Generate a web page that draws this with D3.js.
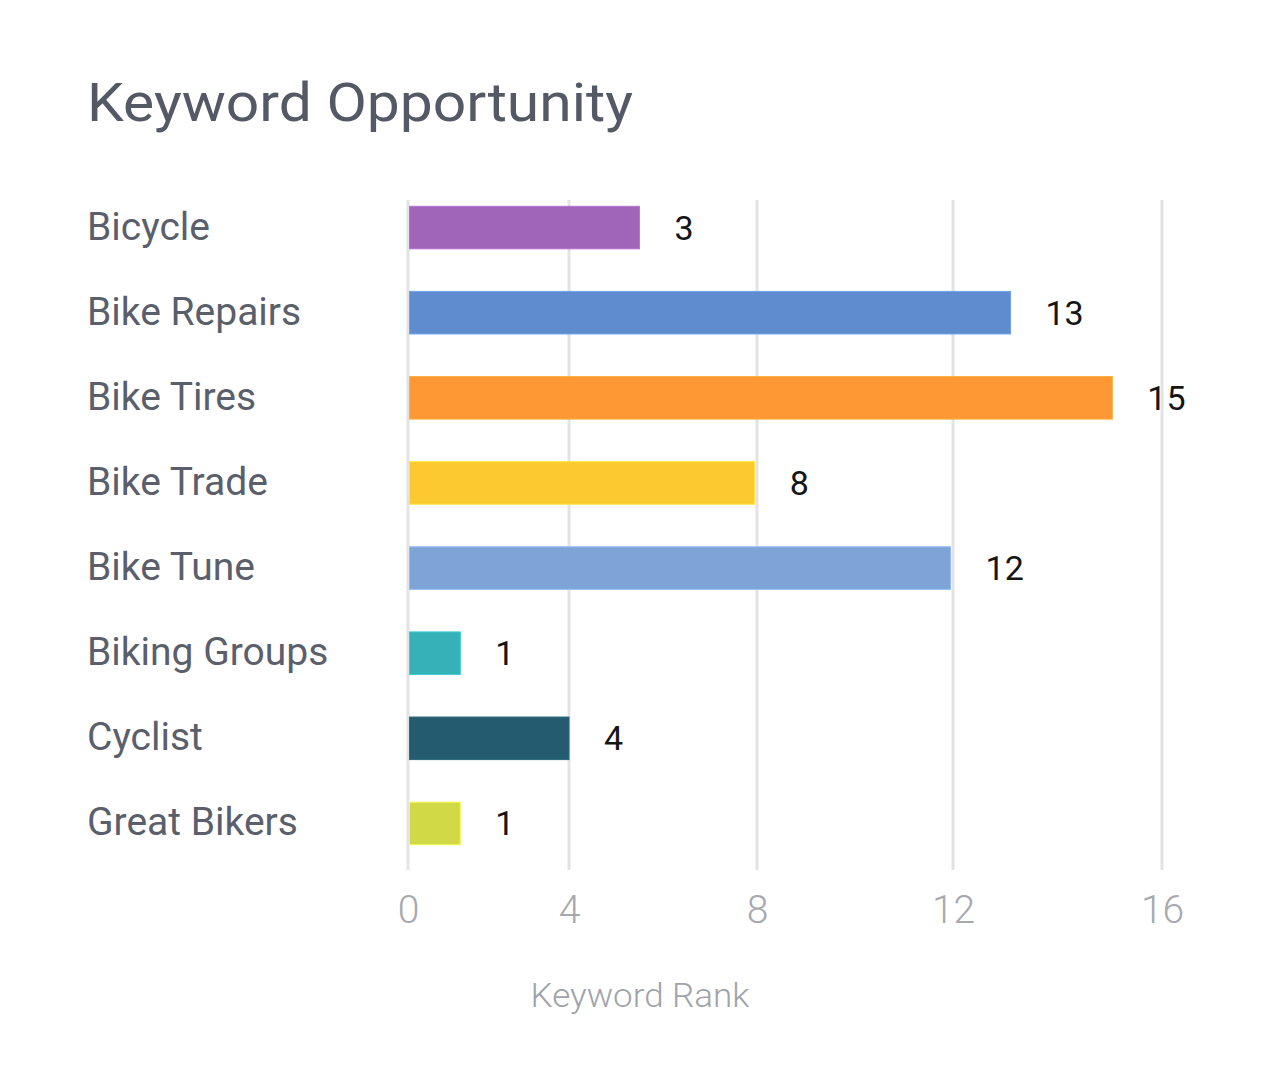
<!DOCTYPE html>
<html>
<head>
<meta charset="utf-8">
<style>
  body { margin: 0; background: #fff; }
  svg text { font-family: Roboto, "Noto Sans", sans-serif; }
</style>
</head>
<body>
<div id="chart"></div>
<script src="https://d3js.org/d3.v7.min.js"></script>
<script>
// keywords, top to bottom
var categories = ["Bicycle", "Bike Repairs", "Bike Tires", "Bike Trade", "Bike Tune", "Biking Groups", "Cyclist", "Great Bikers"];
// rank printed next to each bar
var ranks = [3, 13, 15, 8, 12, 1, 4, 1];
// bar end (the picture's bars do not all sit on their printed rank)
var barValues = [5.5, 13.1, 15.05, 7.95, 11.95, 1.3, 4, 1.3];
var colors = ["#a065b8", "#5f8ccf", "#fd9835", "#fdc930", "#7ea3d6", "#35b1b7", "#245b6e", "#d1da46"];
var tickValues = [0, 4, 8, 12, 16];

var width = 1280, height = 1080;

var svg = d3.select("#chart")
  .append("svg")
    .attr("width", width)
    .attr("height", height);

// the axis in the picture is stretched unevenly, so each tick gets its own stop
var x = d3.scaleLinear()
  .domain(tickValues)
  .range([408, 569, 757, 953, 1162]);

var y = d3.scaleBand()
  .domain(categories)
  .range([185, 866])
  .paddingInner(0.5)
  .paddingOuter(0.25);

var gridTop = 200, gridBottom = 870;

svg.append("text")
  .attr("x", 87)
  .attr("y", 121)
  .attr("fill", "#545965")
  .attr("textLength", 546)
  .attr("lengthAdjust", "spacingAndGlyphs")
  .style("font-size", "53px")
  .text("Keyword Opportunity");

// grid
svg.append("g")
  .selectAll("line")
  .data(tickValues)
  .join("line")
    .attr("x1", d => x(d))
    .attr("x2", d => x(d))
    .attr("y1", gridTop)
    .attr("y2", gridBottom)
    .attr("stroke", "#e3e3e3")
    .attr("stroke-width", 3);

// x axis labels
var xAxis = d3.axisBottom(x).tickValues(tickValues).tickSize(0).tickPadding(0);
var gx = svg.append("g")
  .attr("transform", "translate(0," + 923 + ")")
  .call(xAxis);
gx.select(".domain").remove();
gx.selectAll("text")
  .attr("dy", 0)
  .attr("y", 0)
  .attr("fill", "#a6a8ae")
  .style("font-size", "39px")
  .style("font-weight", 300);

svg.append("text")
  .attr("x", 640)
  .attr("y", 1007)
  .attr("text-anchor", "middle")
  .attr("fill", "#a0a3a9")
  .attr("textLength", 219)
  .attr("lengthAdjust", "spacingAndGlyphs")
  .style("font-size", "33px")
  .style("font-weight", 300)
  .text("Keyword Rank");

// category labels
svg.append("g")
  .selectAll("text")
  .data(categories)
  .join("text")
    .attr("x", 87)
    .attr("y", d => y(d) + y.bandwidth() / 2 + 12)
    .attr("fill", "#5a5f6b")
    .style("font-size", "39px")
    .text(d => d);

// bars
svg.append("g")
  .selectAll("rect")
  .data(categories)
  .join("rect")
    .attr("x", x(0) + 1.5)
    .attr("y", d => y(d))
    .attr("width", (d, i) => x(barValues[i]) - x(0) - 1.5)
    .attr("height", y.bandwidth())
    .attr("fill", (d, i) => colors[i])
    .attr("stroke", (d, i) => d3.color(colors[i]).brighter(0.4))
    .attr("stroke-width", 1);

// value labels
svg.append("g")
  .selectAll("text")
  .data(categories)
  .join("text")
    .attr("x", (d, i) => x(barValues[i]) + 35)
    .attr("y", d => y(d) + y.bandwidth() / 2 + 12)
    .attr("fill", "#151515")
    .style("font-size", "34px")
    .text((d, i) => ranks[i]);
</script>
</body>
</html>
